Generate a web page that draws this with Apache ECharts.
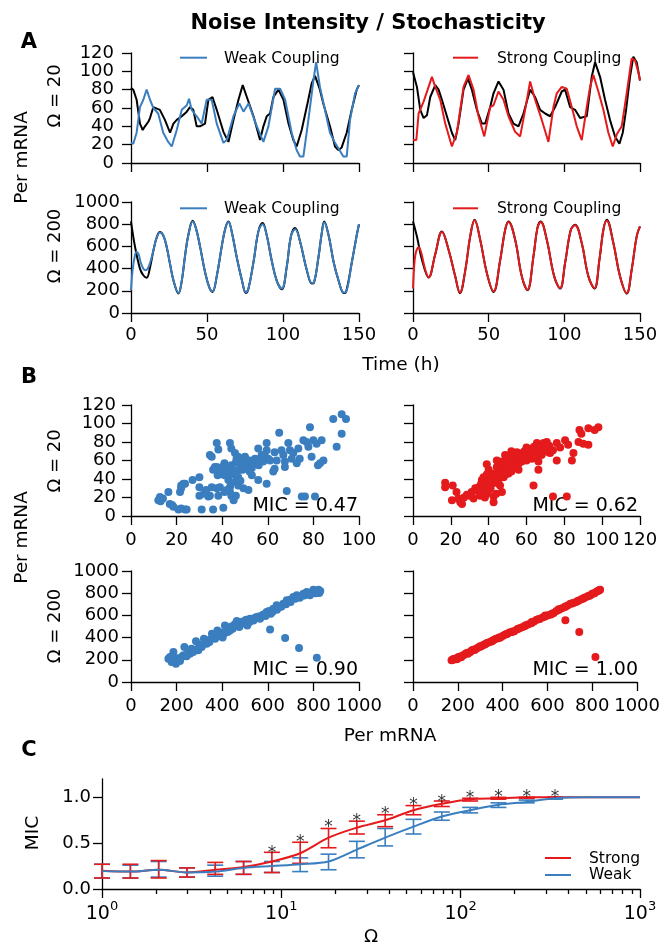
<!DOCTYPE html>
<html><head><meta charset="utf-8">
<script src="https://cdn.jsdelivr.net/npm/echarts@6/dist/echarts.min.js"></script>
<style>html,body{margin:0;padding:0;background:#fff}#c{width:663px;height:945px}</style>
</head><body><div id="c"></div><script>
// ---------------- DATA ----------------
// Panel A, Omega = 20, weak coupling
const w20_t_black = [0,1.5,3.7,5.9,7.7,9.2,11.4,12.5,14.7,16.0,19.0,22.3,25.7,26.8,27.9,30.1,33.4,36.7,38.8,41.0,43.2,45.4,48.7,50.9,53.6,56.4,60.8,64.1,67.4,70.7,73.5,76.2,80.6,84.9,87.1,89.3,91.5,93.7,97.0,100.3,103.6,106.8,109.0,112.3,115.6,118.9,121.1,124.3,126.5,130.9,134.2,136.4,138.6,141.9,145.2,148.5,150];
const w20_black   = [82,80,69,43,36,40,45,49,61,63,58,47,33,31,43,47,51,56,61,58,40,40,43,69,72,58,34,23,47,69,85,72,51,25,40,51,54,72,80,69,43,25,18,36,61,87,95,80,65,40,18,14,17,33,58,80,85];
const w20_t_blue  = [0,1.5,3.7,5.9,8.1,10.3,12.5,14.7,17.9,21.2,24.5,26.8,30.1,33.4,36.7,38.2,39.9,43.2,46.5,49.8,53.1,56.4,60.8,63.0,67.4,71.3,74.0,77.3,82.8,87.1,90.4,94.8,98.1,101.4,105.7,109.0,111.2,113.4,116.7,120.0,121.8,124.3,127.6,130.9,134.2,136.4,139.7,141.9,144.1,147.4,150];
const w20_blue    = [22,21,33,61,69,80,69,60,54,33,23,18,36,58,63,70,58,51,43,69,69,43,22,25,51,65,56,65,40,23,40,81,81,69,33,14,7,7,47,90,110,83,58,33,22,16,7,7,47,76,85];
// Panel A, Omega = 20, strong coupling
const s20_t_black = [0,2.6,4.8,7.0,9.2,11.4,14.7,16.9,19.1,22.4,25.7,27.9,30.1,33.4,36.3,38.9,42.2,45.5,47.7,51.0,53.2,56.5,59.8,63.1,66.4,69.7,73.0,77.4,80.7,84.0,87.3,90.6,93.9,98.3,100.5,103.8,107.1,110.4,114.8,118.1,120.3,123.6,126.9,130.2,133.5,136.4,138.6,140.8,143.4,145.6,147.8,150];
const s20_black   = [99,83,58,49,52,72,85,80,69,51,33,25,43,80,92,80,58,43,43,61,76,89,80,54,43,40,54,80,72,58,54,51,61,78,80,61,58,49,51,94,110,94,69,47,29,21,33,58,94,116,110,90];
const s20_t_red   = [0,2.2,3.7,7.0,9.7,12.5,14.7,18.0,21.3,25.7,29.0,33.4,36.7,40.0,43.3,47.1,51.0,53.2,56.5,59.8,63.1,67.5,70.8,74.1,77.4,80.7,85.1,89.5,92.8,95.0,98.3,101.6,104.9,108.2,111.5,114.8,117.0,119.2,122.5,125.8,129.1,132.0,134.6,137.9,141.2,144.5,146.7,148.9,150];
const s20_red     = [25,25,54,67,80,94,83,69,43,18,33,83,96,80,51,29,61,63,78,69,51,34,29,58,89,69,47,23,61,76,83,81,61,40,25,61,83,96,78,58,33,18,31,40,76,114,112,99,90];
// Panel A, Omega = 200, weak coupling
const w200_t_black = [0,2.6,5.9,8.1,10.3,12.5,14.7,16.9,19.0,21.2,23.4,25.7,28.0,31.2,33.4,35.6,37.7,40.6,42.8,45.4,48.7,51.5,53.6,56.4,59.7,62.0,64.1,66.3,69.6,72.9,75.6,77.3,80.6,83.9,86.6,89.3,92.6,95.9,99.2,102.5,105.2,108.0,111.3,115.6,119.0,120.3,123.3,125.5,127.1,130.0,133.3,136.4,140.0,141.5,145.2,148.5,150];
const w200_black   = [825,600,400,340,318,410,560,680,730,700,600,440,290,175,290,520,700,830,760,600,370,230,190,330,600,760,825,730,500,300,180,220,460,740,810,700,470,290,215,420,690,765,640,390,265,270,500,720,825,700,460,300,180,190,450,700,800];
const w200_t_blue  = [0,1.0,2.6,3.7,5.0,6.5,8.1,9.5,11.0,12.5,14.7,16.9,19.0,21.2,23.4,25.7,28.0,31.2,33.4,35.6,37.7,40.6,42.8,45.4,48.7,51.5,53.6,56.4,59.7,62.0,64.1,66.3,69.6,72.9,75.6,77.3,80.6,83.9,86.6,89.3,92.6,95.9,99.2,102.5,105.2,108.0,111.3,115.6,119.0,120.3,123.3,125.5,127.1,130.0,133.3,136.4,140.0,141.5,145.2,148.5,150];
const w200_blue    = [205,380,520,550,530,450,400,385,400,450,560,680,725,700,600,440,290,180,290,520,700,825,760,600,370,230,195,330,600,760,820,730,500,300,185,220,460,740,800,700,470,290,220,420,690,755,640,390,270,275,500,720,815,700,460,300,185,190,450,700,800];
// Panel A, Omega = 200, strong coupling
const s200_t_black = [0,2.6,5.9,10.3,14.7,19.1,23.5,27.9,31.0,34.5,37.8,40.7,44.4,48.8,53.2,57.6,60.9,63.1,67.5,71.9,75.6,79.6,82.2,84.4,88.4,93.3,97.2,100.5,104.3,107.1,111.5,115.9,119.9,123.2,125.8,128.0,132.4,136.8,141.2,144.5,147.8,150];
const s200_black   = [825,690,480,320,530,735,570,330,178,380,690,840,660,360,190,475,750,825,660,330,205,510,765,825,660,330,220,450,750,795,630,330,220,480,750,840,630,330,175,390,690,780];
const s200_t_red   = [0,0.8,1.5,2.5,3.7,5.5,7.0,8.8,10.3,14.7,19.1,23.5,27.9,31.0,34.5,37.8,40.7,44.4,48.8,53.2,57.6,60.9,63.1,67.5,71.9,75.6,79.6,82.2,84.4,88.4,93.3,97.2,100.5,104.3,107.1,111.5,115.9,119.9,123.2,125.8,128.0,132.4,136.8,141.2,144.5,147.8,150];
const s200_red     = [220,430,520,570,592,540,450,360,320,530,730,570,330,185,380,690,835,660,360,195,475,750,820,660,330,210,510,765,820,660,330,225,450,750,790,630,330,225,480,750,830,630,330,180,390,690,780];

// Panel B scatter: x = black node, y = coloured node
const scW20_x = [12,12.7,13,14,16.4,17,18,18.6,20.8,22,23.7,24.4,21.5,22,23,23.7,22,27,30,30,30,31,32,33,33.9,34.6,35.4,36,34.6,35.4,37.6,38.3,36,36.8,37.6,37.6,38.3,39,39,39.8,40.5,41,42,42.7,43.4,44,43.4,43.4,44,45,45,45.6,46.3,46.3,47,47.8,47.8,48.5,49.3,49.3,50,50.7,51.5,51.5,52,53,53.7,54.4,55.8,55.8,56.6,57.3,58,58.8,59.5,59.5,59.5,60.2,61,62.4,63,63,63.9,65,66,66.8,67.5,67.5,68.3,69,69.7,70.5,71.2,72.7,73.4,74,74.9,75.6,76.3,77,77.8,78.5,79.2,80,80.7,81.4,82,82.9,83.6,84.4,88.7,92.4,94.3,92.4,90.2,41,42,44,45,46,47,48,44,43,46,49,50,52,53,55,56,40,38,41,42,47,48,46,44];
const scW20_y = [17,20.6,16,19,26,13,12,10,7,8,7,7,26,33,35,35,30,39,42,31,22,7,24,28,21,22,31,7,66,64,79,72,50,53,53,30,22,31,46,50,9,57,51,39,79,73,31,26,22,21,17,68,62,39,42,57,50,62,59,30,64,53,57,28,48,44,60,62,73,39,62,66,59,64,79,71,35,62,60,48,51,69,60,90,71,66,59,53,27,79,71,62,68,57,73,62,21,82,21,80,75,96,64,82,21,78,55,57,82,60,105,110,105,89,75,44,46,55,50,58,64,53,45,48,47,50,57,60,52,58,55,53,44,26,28,33,38,22,36];
const scS20_x = [17,17,21,20.6,23,24,25.9,25,28.5,31,32,32.9,33.8,34.7,35.5,36.4,37.3,38,39,39,40,40.8,41.7,42.6,42.6,43.5,44.3,44.3,45.2,46,47,47,47.9,48.7,48.7,49.6,50.5,51.4,52.3,53,54,54.9,55.8,56.7,57.5,58.4,59.3,60,61,62,62.8,63.7,64.6,65.5,66.3,63.7,66.3,67,68,69,70.7,71.6,72.5,74,76,76,77.8,80.4,81.3,82,84,84.8,87.5,88,89,90,92.7,92.7,96,98,38,39,41,42,43,44,45,46,47,48,49,50,51,52,53,54,55,56,57,58,59,60,61,62,63,64,66,67,36,37,40,35,38,41,44,30,27,39,45,47,50,52,55,60,65,70,72,74];
const scS20_y = [36,31,33,17,26,19,13,15,23,26,19,30,28,31,22,39,42,33,56,24,50,44,35,15,21,40,53,60,48,33,59,26,42,66,50,55,46,60,66,53,60,69,50,64,59,69,64,74,68,71,62,74,69,79,59,33,50,75,66,79,80,69,68,21,60,79,74,82,21,77,60,68,80,93,89,78,77,95,93,96,40,45,38,42,46,36,44,50,47,54,45,52,57,48,62,55,63,57,66,62,70,66,72,67,70,75,72,68,35,30,28,25,20,30,24,22,20,36,38,56,62,70,67,60,65,72,76,71];
const scW200_x = [164,171,178,186,197,208,222,234,244,259,273,285,295,310,320,332,344,355,369,379,390,402,412,424,434,446,464,475,486,500,510,522,537,551,566,581,595,610,613,624,639,654,676,668,683,698,712,727,737,741,756,771,785,800,815,815,822,826,180,190,200,215,230,250,265,280,300,315,330,345,360,375,395,410,425,440,455,470,490,505,520,540,560,575,590,605,620,640,660,680,700,720,740,760,780,800,810,830];
const scW200_y = [210,225,180,270,165,210,225,315,231,255,270,366,285,315,390,345,360,435,390,465,420,400,510,450,465,480,550,495,525,540,510,570,555,585,570,607,630,474,615,661,691,676,396,706,736,742,766,781,306,766,796,811,781,832,219,811,832,802,230,200,215,190,240,260,300,290,330,340,370,380,410,420,445,440,480,500,520,520,545,560,540,575,590,600,595,640,630,650,680,700,720,750,760,780,790,810,800,820];
const scS200_x = [172,178,185,190,196,203,210,218,225,233,240,248,256,263,270,278,286,295,303,312,320,330,340,350,360,370,380,390,400,410,420,430,440,452,465,478,490,503,515,528,540,552,565,578,590,603,615,628,640,652,665,678,690,702,715,728,740,752,765,778,790,800,810,820,828,835,680,742,814,180,200,215,245,275,300,325,355,385,415,445,470,500,530,560,590,620,650,680,710,735,760,785,805,830];
const scS200_y = [195,205,208,212,205,225,228,235,240,252,262,265,270,285,290,295,305,315,320,330,338,352,358,365,378,390,395,402,415,425,432,445,450,458,475,487,495,512,520,530,545,560,568,580,590,602,608,622,640,650,665,675,690,705,712,720,735,745,760,770,780,795,800,815,822,830,556,450,225,200,215,222,255,288,322,345,372,400,430,455,480,505,540,565,598,615,655,680,708,730,752,778,798,826];
const micLabels = ['MIC = 0.47', 'MIC = 0.62', 'MIC = 0.90', 'MIC = 1.00'];

// Panel C
const omega      = [1,1.44,2.07,2.98,4.28,6.16,8.86,12.74,18.33,26.37,37.93,54.56,78.48,112.9,162.4,233.6,336.0,483.3,695.2,1000];
const strongMean = [0.20,0.19,0.21,0.18,0.21,0.24,0.30,0.39,0.56,0.67,0.75,0.86,0.93,0.98,0.99,1.0,1.0,1.0,1.0,1.0];
const strongHi   = [0.27,0.27,0.31,0.23,0.29,0.30,0.40,0.51,0.66,0.74,0.81,0.91,0.96,0.99,1.0,1.0,1.0,null,null,null];
const strongLo   = [0.12,0.12,0.12,0.13,0.16,0.16,0.18,0.28,0.45,0.60,0.68,0.81,0.90,0.96,0.98,0.99,1.0,null,null,null];
const weakMean   = [0.195,0.19,0.21,0.18,0.19,0.23,0.25,0.27,0.30,0.43,0.56,0.68,0.79,0.86,0.92,0.95,0.99,1.0,1.0,1.0];
const weakHi     = [0.27,0.26,0.30,0.23,0.26,0.30,0.30,0.34,0.38,0.52,0.66,0.76,0.84,0.89,0.94,0.97,1.0,null,null,null];
const weakLo     = [0.12,0.12,0.13,0.13,0.14,0.16,0.18,0.19,0.21,0.34,0.47,0.60,0.75,0.83,0.89,0.94,0.98,null,null,null];
const starOmega  = [8.86,12.74,18.33,26.37,37.93,54.56,78.48,112.9,162.4,233.6,336.0];
const starY      = [0.44,0.56,0.72,0.79,0.87,0.96,1.0,1.04,1.05,1.05,1.05];
const minorTicksC = [2,3,4,5,6,7,8,9,20,30,40,50,60,70,80,90,200,300,400,500,600,700,800,900];

// ---------------- CHART ----------------
const FONT = 'DejaVu Sans';
const BLUE = '#3a7ebf', RED = '#e41a1c', BLACK = '#000';

const grids = [
  {left:131, top:53,  width:228, height:110},
  {left:413, top:53,  width:227, height:110},
  {left:131, top:202, width:228, height:111},
  {left:413, top:202, width:227, height:111},
  {left:131, top:405, width:228, height:111},
  {left:413, top:405, width:227, height:111},
  {left:131, top:571, width:228, height:111},
  {left:413, top:571, width:227, height:111},
  {left:102, top:779, width:538, height:110}
];

function ax(gi, o) {
  const base = {
    gridIndex: gi, type:'value',
    axisLine:{show:true, onZero:false, lineStyle:{color:BLACK, width:1.3}},
    axisTick:{show:true, inside:false, length:9, lineStyle:{color:BLACK, width:1.3}},
    axisLabel:{show:true, color:BLACK, fontFamily:FONT, fontSize:18, margin:12, formatter: v => String(v)},
    splitLine:{show:false}
  };
  const r = Object.assign(base, o);
  if (o.labelShow === false) r.axisLabel = Object.assign({}, base.axisLabel, {show:false});
  if (o.margin !== undefined) r.axisLabel = Object.assign({}, r.axisLabel, {margin:o.margin});
  return r;
}

const xAxes = [
  ax(0,{min:0,max:150,interval:50,labelShow:false}),
  ax(1,{min:0,max:150,interval:50,labelShow:false}),
  ax(2,{min:0,max:150,interval:50,margin:13}),
  ax(3,{min:0,max:150,interval:50,margin:13}),
  ax(4,{min:0,max:100,interval:20,margin:15}),
  ax(5,{min:0,max:120,interval:20,margin:15}),
  ax(6,{min:0,max:1000,interval:200,margin:15}),
  ax(7,{min:0,max:1000,interval:200,margin:15}),
  {gridIndex:8, type:'log', logBase:10, min:1, max:1000, position:'bottom',
   axisLine:{show:true, onZero:false, lineStyle:{color:BLACK, width:1.3}},
   axisTick:{show:true, length:9, lineStyle:{color:BLACK, width:1.3}},
   axisLabel:{color:BLACK, fontFamily:FONT, fontSize:19, margin:8,
     formatter: v => '{b|10}{s|' + Math.round(Math.log10(v)) + '}',
     rich:{b:{fontFamily:FONT, fontSize:19, color:BLACK, padding:[8,0,0,0]}, s:{fontFamily:FONT, fontSize:13, color:BLACK, padding:[0,0,8,0]}}},
   splitLine:{show:false}},
  {gridIndex:8, type:'log', logBase:10, min:1, max:1000, position:'bottom',
   axisLine:{show:false},
   axisTick:{show:true, length:5, customValues:minorTicksC, lineStyle:{color:BLACK, width:1.3}},
   axisLabel:{show:false}, splitLine:{show:false}}
];
const yAxes = [
  ax(0,{min:0,max:120,interval:20,margin:17}),
  ax(1,{min:0,max:120,interval:20,labelShow:false}),
  ax(2,{min:0,max:1000,interval:200,margin:11}),
  ax(3,{min:0,max:1000,interval:200,labelShow:false}),
  ax(4,{min:0,max:120,interval:20,margin:15}),
  ax(5,{min:0,max:120,interval:20,labelShow:false}),
  ax(6,{min:0,max:1000,interval:200,margin:12}),
  ax(7,{min:0,max:1000,interval:200,labelShow:false}),
  {gridIndex:8, type:'value', min:0, max:1.2,
   axisLine:{show:true, onZero:false, lineStyle:{color:BLACK, width:1.3}},
   axisTick:{show:true, length:9, customValues:[0,0.5,1.0], lineStyle:{color:BLACK, width:1.3}},
   axisLabel:{color:BLACK, fontFamily:FONT, fontSize:18, margin:11, customValues:[0,0.5,1.0], formatter: v => v.toFixed(1)},
   splitLine:{show:false}}
];

function zip(a, b) { return a.map((v, i) => [v, b[i]]); }
function line(gi, ts, vs, color, z, smooth) {
  return {type:'line', xAxisIndex:gi, yAxisIndex:gi, data:zip(ts, vs), showSymbol:false, symbol:'none',
    smooth:smooth, lineStyle:{color:color, width:2}, itemStyle:{color:color}, z:z, silent:true};
}
function scat(gi, xs, ys, color) {
  return {type:'scatter', xAxisIndex:gi, yAxisIndex:gi, data:zip(xs, ys), symbolSize:8,
    itemStyle:{color:color, opacity:1}, silent:true};
}
function errBars(lo, hi, color, z) {
  const d = [];
  omega.forEach((o, i) => { if (lo[i] != null) d.push([o, lo[i], hi[i]]); });
  return {type:'custom', xAxisIndex:8, yAxisIndex:8, z:z, data:d, silent:true,
    renderItem(params, api) {
      const x = api.value(0);
      const p1 = api.coord([x, api.value(1)]), p2 = api.coord([x, api.value(2)]);
      const w = 8, st = {stroke:color, lineWidth:1.6};
      return {type:'group', children:[
        {type:'line', shape:{x1:p1[0], y1:p1[1], x2:p2[0], y2:p2[1]}, style:st},
        {type:'line', shape:{x1:p1[0]-w, y1:p1[1], x2:p1[0]+w, y2:p1[1]}, style:st},
        {type:'line', shape:{x1:p2[0]-w, y1:p2[1], x2:p2[0]+w, y2:p2[1]}, style:st}
      ]};
    }};
}

const series = [
  line(0, w20_t_black, w20_black, BLACK, 2, false),
  line(0, w20_t_blue, w20_blue, BLUE, 3, false),
  line(1, s20_t_black, s20_black, BLACK, 2, false),
  line(1, s20_t_red, s20_red, RED, 3, false),
  line(2, w200_t_black, w200_black, BLACK, 2, 0.4),
  line(2, w200_t_blue, w200_blue, BLUE, 3, 0.4),
  line(3, s200_t_black, s200_black, BLACK, 2, 0.4),
  line(3, s200_t_red, s200_red, RED, 3, 0.4),
  scat(4, scW20_x, scW20_y, BLUE),
  scat(5, scS20_x, scS20_y, RED),
  scat(6, scW200_x, scW200_y, BLUE),
  scat(7, scS200_x, scS200_y, RED),
  errBars(weakLo, weakHi, BLUE, 4),
  errBars(strongLo, strongHi, RED, 5),
  {type:'line', xAxisIndex:8, yAxisIndex:8, data:zip(omega, weakMean), showSymbol:false, symbol:'none', smooth:0.3,
   lineStyle:{color:BLUE, width:2}, z:6, silent:true},
  {type:'line', xAxisIndex:8, yAxisIndex:8, data:zip(omega, strongMean), showSymbol:false, symbol:'none', smooth:0.3,
   lineStyle:{color:RED, width:2}, z:5, silent:true},
  {type:'scatter', xAxisIndex:8, yAxisIndex:8, data:zip(starOmega, starY), symbolSize:2, z:10, silent:true,
   itemStyle:{color:'rgba(0,0,0,0)'},
   label:{show:true, position:'inside', formatter:'*', fontFamily:FONT, fontSize:17, color:'#000', offset:[0,5]}}
];

function txt(x, y, s, opt) {
  return {type:'text', x:x, y:y, rotation:(opt && opt.rot) || 0, silent:true,
    style:Object.assign({text:s, fontFamily:FONT, fontSize:18, fill:BLACK, textAlign:'center', textVerticalAlign:'middle'}, opt && opt.style)};
}
function seg(x1, x2, y, color) {
  return {type:'line', silent:true, shape:{x1:x1, y1:y, x2:x2, y2:y}, style:{stroke:color, lineWidth:2}};
}
const R90 = Math.PI / 2;
const graphics = [
  txt(368, 23.4, 'Noise Intensity / Stochasticity', {style:{fontWeight:'bold', fontSize:21}}),
  txt(29, 42.7, 'A', {style:{fontWeight:'bold', fontSize:21}}),
  txt(29, 377.7, 'B', {style:{fontWeight:'bold', fontSize:21}}),
  txt(29, 750.7, 'C', {style:{fontWeight:'bold', fontSize:21}}),
  txt(21.9, 157.5, 'Per mRNA', {rot:R90, style:{fontSize:18.5}}),
  txt(21.9, 537.5, 'Per mRNA', {rot:R90, style:{fontSize:18.5}}),
  txt(55.5, 96, 'Ω = 20', {rot:R90}),
  txt(55.5, 246, 'Ω = 200', {rot:R90}),
  txt(55.5, 461, 'Ω = 20', {rot:R90}),
  txt(55.5, 626, 'Ω = 200', {rot:R90}),
  txt(33.6, 833, 'MIC', {rot:R90, style:{fontSize:18.5}}),
  txt(401, 365.4, 'Time (h)', {style:{fontSize:18.5}}),
  txt(390, 736.6, 'Per mRNA', {style:{fontSize:18.5}}),
  txt(371, 937, 'Ω', {style:{fontSize:18.5}}),
  txt(358, 506.4, micLabels[0], {style:{fontSize:19, textAlign:'right'}}),
  txt(638, 506.4, micLabels[1], {style:{fontSize:19, textAlign:'right'}}),
  txt(358, 670.4, micLabels[2], {style:{fontSize:19, textAlign:'right'}}),
  txt(638, 670.4, micLabels[3], {style:{fontSize:19, textAlign:'right'}}),
  seg(180, 207, 57.7, BLUE), txt(224, 58.5, 'Weak Coupling', {style:{fontSize:15.5, textAlign:'left'}}),
  seg(453, 478, 57.7, RED), txt(497, 58.5, 'Strong Coupling', {style:{fontSize:15.5, textAlign:'left'}}),
  seg(180, 207, 208.3, BLUE), txt(224, 209, 'Weak Coupling', {style:{fontSize:15.5, textAlign:'left'}}),
  seg(453, 478, 208.3, RED), txt(497, 209, 'Strong Coupling', {style:{fontSize:15.5, textAlign:'left'}}),
  seg(545, 571, 858, RED), txt(589, 858.6, 'Strong', {style:{fontSize:15.5, textAlign:'left'}}),
  seg(545, 571, 875, BLUE), txt(589, 874.6, 'Weak', {style:{fontSize:15.5, textAlign:'left'}})
];

const chart = echarts.init(document.getElementById('c'), null, {renderer:'canvas'});
chart.setOption({
  animation:false,
  backgroundColor:'#fff',
  grid:grids,
  xAxis:xAxes,
  yAxis:yAxes,
  series:series,
  graphic:graphics
});
</script></body></html>
